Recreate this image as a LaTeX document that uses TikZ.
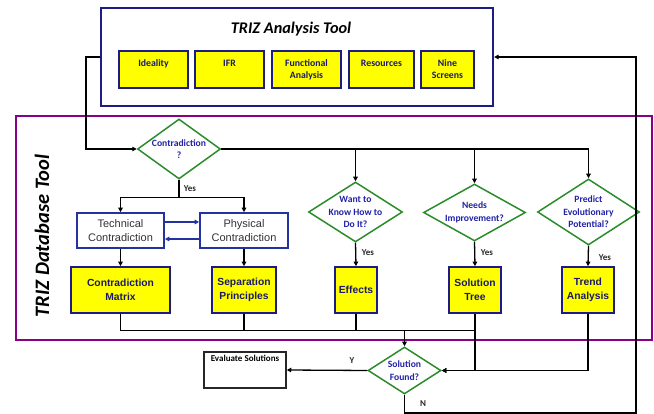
\documentclass[tikz,border=0pt]{standalone}
\usepackage{fontspec}
\setmainfont{Carlito}
\newfontfamily\arialf{Liberation Sans}
\usetikzlibrary{shapes.geometric,arrows.meta}
\definecolor{navyb}{HTML}{1C1C84}
\definecolor{navyt}{HTML}{1A1A66}
\definecolor{ylw}{HTML}{FFFF00}
\definecolor{grn}{HTML}{2A8C2A}
\definecolor{dtxt}{HTML}{2222A8}
\definecolor{bbox}{HTML}{2233A0}
\definecolor{purp}{HTML}{880088}
\tikzset{
  arr/.style={line width=1.3pt,-{Triangle[length=4.5pt,width=4.5pt]}},
  ln/.style={line width=1.3pt},
  barr/.style={line width=1.3pt,draw=bbox,-{Triangle[length=4.5pt,width=4.5pt]}},
  ybox/.style={draw=navyb,line width=1.6pt,fill=ylw,inner sep=0pt,align=center,text=navyt,font=\bfseries\fontsize{9.8}{12}\selectfont},
  ydb/.style={draw=navyb,line width=1.6pt,fill=ylw,inner sep=0pt,align=center,text=navyt,font=\arialf\bfseries\fontsize{10.3}{14}\selectfont},
  wbox/.style={draw=bbox,line width=1.6pt,fill=white,inner sep=0pt,align=center,text=black!80,font=\arialf\fontsize{11}{14}\selectfont},
  dia/.style={diamond,draw=grn,line width=1.5pt,fill=white,inner sep=0pt},
  dtext/.style={align=center,text=dtxt,font=\bfseries\fontsize{9.6}{12.5}\selectfont},
  yes/.style={font=\bfseries\fontsize{9}{10}\selectfont,text=black!85}
}
\begin{document}
\begin{tikzpicture}[x=1pt,y=-1pt]
\useasboundingbox (0,0) rectangle (654,414);
% top analysis box
\node[draw=navyb,line width=2.2pt,minimum width=392pt,minimum height=98pt,inner sep=0pt] (top) at (297,57) {};
\node[font=\bfseries\itshape\fontsize{16.3}{18}\selectfont] (ttl) at (291,29) {TRIZ Analysis Tool};
\node[ybox,minimum width=69pt,minimum height=37pt] (ide) at (153.5,69.5) {Ideality\\\mbox{}};
\node[ybox,minimum width=69pt,minimum height=37pt] (ifr) at (229.5,69.5) {IFR\\\mbox{}};
\node[ybox,minimum width=69pt,minimum height=37pt] (fa) at (306.5,69.5) {Functional\\Analysis};
\node[ybox,minimum width=65pt,minimum height=37pt] (res) at (381.5,69.5) {Resources\\\mbox{}};
\node[ybox,minimum width=53pt,minimum height=37pt] (nine) at (447.5,69.5) {Nine\\Screens};
% database box
\node[draw=purp,line width=2.2pt,minimum width=636pt,minimum height=224pt,inner sep=0pt] (db) at (334,228) {};
\node[rotate=90,font=\bfseries\itshape\fontsize{20.5}{22}\selectfont] (dbl) at (42,236) {TRIZ Database Tool};
% diamonds
\node[dia,minimum width=83pt,minimum height=60pt] (d1) at (179,149) {};
\node[dtext] at (d1) {Contradiction\\?};
\node[dia,minimum width=94pt,minimum height=60pt] (d2) at (355.5,212) {};
\node[dtext] at (d2) {Want to\\Know How to\\Do It?};
\node[dia,minimum width=102pt,minimum height=57pt] (d3) at (474.5,212.5) {};
\node[dtext] at (d3) {Needs\\Improvement?};
\node[dia,minimum width=102pt,minimum height=66pt] (d4) at (588.5,212) {};
\node[dtext] at (d4) {Predict\\Evolutionary\\Potential?};
\node[dia,minimum width=73pt,minimum height=47pt] (d5) at (404.5,370.5) {};
\node[dtext] at (d5) {Solution\\Found?};
% boxes
\node[wbox,minimum width=87pt,minimum height=35pt] (tc) at (120.5,230.5) {Technical\\Contradiction};
\node[wbox,minimum width=88pt,minimum height=35pt] (pc) at (244,230.5) {Physical\\Contradiction};
\node[ydb,minimum width=99pt,minimum height=46pt] (cm) at (120.5,290) {Contradiction\\Matrix};
\node[ydb,minimum width=64pt,minimum height=46pt] (sp) at (244,290) {Separation\\Principles};
\node[ydb,minimum width=42pt,minimum height=46pt] (ef) at (356,290) {Effects};
\node[ydb,minimum width=52pt,minimum height=46pt] (st) at (475,290) {Solution\\Tree};
\node[ydb,minimum width=52pt,minimum height=46pt] (ta) at (588,290) {Trend\\Analysis};
\node[draw=black!85,line width=1.5pt,minimum width=82pt,minimum height=36pt,inner sep=0pt] (ev) at (245,370) {};
\node[anchor=north,font=\bfseries\fontsize{9}{10}\selectfont,inner sep=0pt] (evt) at ([yshift=-3.5pt]ev.north) {Evaluate Solutions};
% connectors
\draw[arr] (top.west) -- ++(-14,0) |- (d1.west);
\draw[arr] (d1.east) -| (d4.north);
\draw[arr] (d2.north |- d1.east) -- (d2.north);
\draw[arr] (d3.north |- d1.east) -- (d3.north);
\draw[ln] (d1.south) -- ++(0,18) coordinate (j1);
\draw[arr] (j1) -| (tc.north);
\draw[arr] (j1) -| (pc.north);
\node[yes] (y1) at (190,189) {Yes};
\draw[barr] ([yshift=8.5pt]tc.east) -- ([yshift=8.5pt]pc.west);
\draw[barr] ([yshift=-8.5pt]pc.west) -- ([yshift=-8.5pt]tc.east);
\draw[arr] (tc.south) -- (cm.north);
\draw[arr] (pc.south) -- (sp.north);
\draw[arr] (d2.south) -- (ef.north);
\draw[arr] (d3.south) -- (st.north);
\draw[arr] (d4.south) -- (ta.north);
\node[yes] (y2) at (368,253) {Yes};
\node[yes] (y3) at (487,253) {Yes};
\node[yes] (y4) at (605,258) {Yes};
\draw[ln] (cm.south) -- ++(0,17) coordinate (b1) -- (b1 -| st.south);
\draw[ln] (sp.south) -- (sp.south |- b1);
\draw[ln] (ef.south) -- (ef.south |- b1);
\draw[arr] (b1 -| d5.north) -- (d5.north);
\draw[arr] (st.south) |- (d5.east);
\draw[arr] (ta.south) |- (d5.east);
\draw[arr] (d5.west) -- (ev.east);
\node[yes] (yy) at (352,361) {Y};
\coordinate (nr) at (636,413);
\draw[arr] (d5.south) |- (nr) |- (top.east);
\node[yes] (nn) at (423,404) {N};
\end{tikzpicture}
\end{document}
